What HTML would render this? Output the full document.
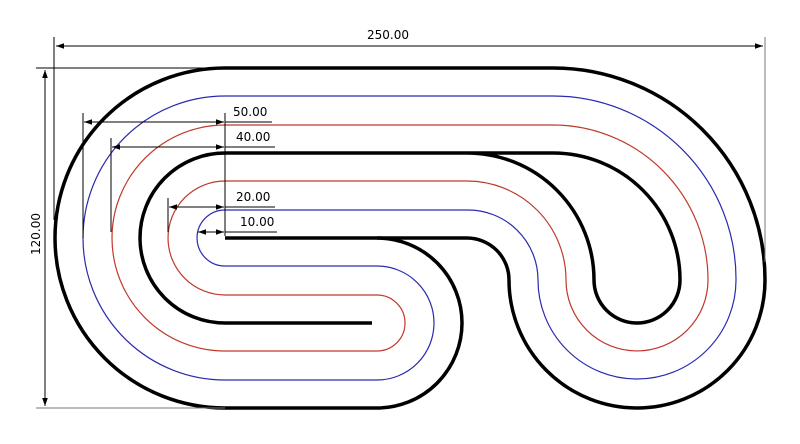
<!DOCTYPE html>
<html><head><meta charset="utf-8"><style>html,body{margin:0;padding:0;background:#fff}svg{display:block}text{font-family:"DejaVu Sans","Liberation Sans",sans-serif;font-size:12px;fill:#000}</style></head>
<body>
<svg width="800" height="444" viewBox="0 0 800 444" xmlns="http://www.w3.org/2000/svg">
<defs>
<marker id="a" viewBox="0 0 10 10" refX="10" refY="5" markerWidth="8" markerHeight="8" orient="auto-start-reverse" markerUnits="userSpaceOnUse"><path d="M0,1.5 L10,5 L0,8.5 z" fill="#000"/></marker>
</defs>
<g fill="none">
<path d="M553,68 H225 A170,170 0 0 0 225,408 H377 A85,85 0 0 0 377,238" stroke="#000" stroke-width="3.5"/>
<path d="M225,238 H467 A42,42 0 0 1 509,280 A128,128 0 0 0 765,280 A212,212 0 0 0 553,68" stroke="#000" stroke-width="3.5"/>
<path d="M372,323 H225 A85,85 0 0 1 225,153 H553 A127,127 0 0 1 680,280 A43,43 0 0 1 594,280 A127,127 0 0 0 467,153" stroke="#000" stroke-width="3.5"/>
<path d="M467,181 A99,99 0 0 1 566,280 A71,71 0 0 0 708,280 A155,155 0 0 0 553,125 H225 A113,113 0 0 0 225,351 H377 A28,28 0 0 0 377,295 H225 A57,57 0 0 1 225,181 H467" stroke="#c0392b" stroke-width="1.2"/>
<path d="M467,210 A70,70 0 0 1 538,280 A99,99 0 0 0 736,280 A183,183 0 0 0 553,96 H225 A142,142 0 0 0 225,380 H377 A57,57 0 0 0 377,266 H225 A28,28 0 0 1 225,210 H467" stroke="#2a2ab0" stroke-width="1.2"/>
<g stroke="#000" stroke-width="1">
<line x1="54" y1="37" x2="54" y2="220"/>
<line x1="765" y1="37" x2="765" y2="262" stroke="#777"/>
<line x1="56" y1="46" x2="763" y2="46" marker-start="url(#a)" marker-end="url(#a)"/>
<line x1="36" y1="68" x2="225" y2="68"/>
<line x1="36" y1="408" x2="225" y2="408" stroke="#777"/>
<line x1="45" y1="70" x2="45" y2="406" marker-start="url(#a)" marker-end="url(#a)"/>
<line x1="225" y1="113" x2="225" y2="236"/>
<line x1="83" y1="113" x2="83" y2="238"/>
<line x1="84" y1="122" x2="224" y2="122" marker-start="url(#a)" marker-end="url(#a)"/>
<line x1="225" y1="122" x2="272" y2="122"/>
<line x1="111" y1="138" x2="111" y2="232"/>
<line x1="112" y1="147" x2="224" y2="147" marker-start="url(#a)" marker-end="url(#a)"/>
<line x1="225" y1="147" x2="275" y2="147"/>
<line x1="168" y1="198" x2="168" y2="232"/>
<line x1="169" y1="207" x2="224" y2="207" marker-start="url(#a)" marker-end="url(#a)"/>
<line x1="225" y1="207" x2="275" y2="207"/>
<line x1="198" y1="232" x2="224" y2="232" marker-start="url(#a)" marker-end="url(#a)"/>
<line x1="225" y1="232" x2="277" y2="232"/>
</g>
</g>
<text x="367" y="39">250.00</text>
<text x="233" y="116">50.00</text>
<text x="236" y="141">40.00</text>
<text x="236" y="201">20.00</text>
<text x="240" y="226">10.00</text>
<text transform="translate(40,234) rotate(-90)" text-anchor="middle">120.00</text>
</svg>
</body></html>
